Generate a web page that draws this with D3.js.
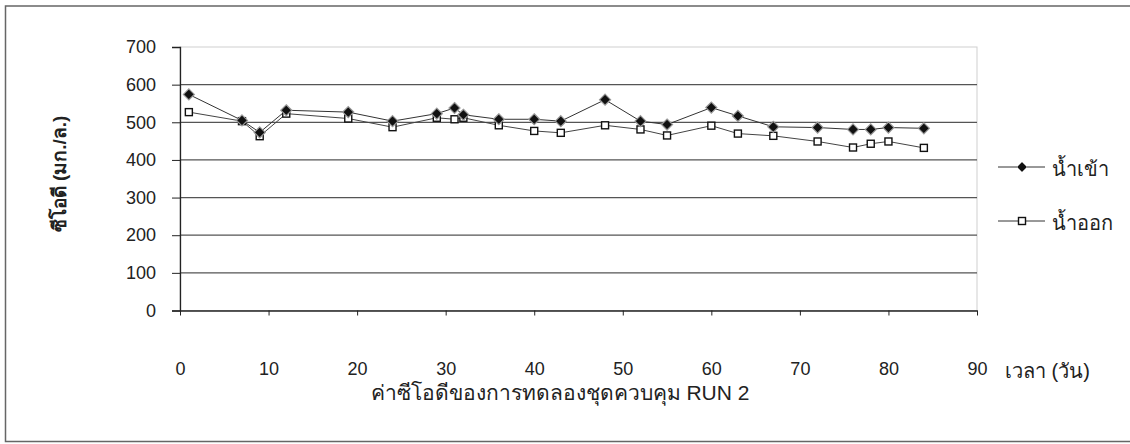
<!DOCTYPE html>
<html>
<head>
<meta charset="utf-8">
<script src="https://cdn.jsdelivr.net/npm/d3@7"></script>
<style>
  body { margin: 0; background: #fff; }
  svg text { font-family: "Liberation Sans", Arial, sans-serif; fill: #222; }
</style>
</head>
<body>
<div id="chart"></div>
<script>
const days = [1, 7, 9, 12, 19, 24, 29, 31, 32, 36, 40, 43, 48, 52, 55, 60, 63, 67, 72, 76, 78, 80, 84];
const codIn = [574, 505, 473, 532, 527, 503, 523, 538, 520, 508, 508, 503, 560, 503, 494, 539, 517, 488, 486, 481, 481, 486, 484];
const codOut = [527, 503, 463, 523, 510, 487, 512, 508, 512, 492, 477, 472, 492, 481, 465, 491, 470, 464, 449, 433, 443, 449, 432];
const xTicks = [0, 10, 20, 30, 40, 50, 60, 70, 80, 90];
const yTicks = [0, 100, 200, 300, 400, 500, 600, 700];
const seriesNames = ["น้ำเข้า", "น้ำออก"];
const xTitle = "ค่าซีโอดีของการทดลองชุดควบคุม RUN 2";
const xUnit = "เวลา (วัน)";
const yTitle = "ซีโอดี (มก./ล.)";

const W = 1130, H = 444;
const plot = { left: 180, right: 977, top: 47, bottom: 310.5 };

const svg = d3.select("#chart").append("svg")
    .attr("width", W)
    .attr("height", H);

// outer frame
svg.append("path")
    .attr("d", `M${W + 2},6 H5.5 V441.5 H${W + 2}`)
    .attr("fill", "none")
    .attr("stroke", "#666")
    .attr("stroke-width", 1.5);

const x = d3.scaleLinear().domain([0, 90]).range([plot.left, plot.right]);
const y = d3.scaleLinear().domain([0, 700]).range([plot.bottom, plot.top]);

// plot area border (faint)
svg.append("rect")
    .attr("x", plot.left).attr("y", plot.top)
    .attr("width", plot.right - plot.left)
    .attr("height", plot.bottom - plot.top)
    .attr("fill", "none")
    .attr("stroke", "#cfcfcf");

// grid lines
svg.append("g")
    .selectAll("line")
    .data(yTicks.filter(d => d > 0 && d < 700))
    .enter().append("line")
    .attr("x1", plot.left).attr("x2", plot.right)
    .attr("y1", d => y(d)).attr("y2", d => y(d))
    .attr("stroke", "#555")
    .attr("stroke-width", 1.2);

// y axis
const yAxis = svg.append("g")
    .attr("transform", `translate(${plot.left},0)`)
    .call(d3.axisLeft(y).tickValues(yTicks).tickSize(8).tickPadding(16));
yAxis.select(".domain").attr("stroke", "#222").attr("stroke-width", 1.3);
yAxis.selectAll(".tick line").attr("stroke", "#222");
yAxis.selectAll(".tick text").attr("font-size", 18).attr("fill", "#222");

// x axis
const xAxis = svg.append("g")
    .attr("transform", `translate(0,${plot.bottom})`)
    .call(d3.axisBottom(x).tickValues(xTicks).tickSize(5).tickSizeOuter(0).tickPadding(47));
xAxis.select(".domain").attr("stroke", "#222").attr("stroke-width", 1.3);
xAxis.selectAll(".tick line").attr("stroke", "#222");
xAxis.selectAll(".tick text").attr("font-size", 18).attr("fill", "#222");

svg.append("text")
    .attr("x", 1005).attr("y", 378)
    .attr("font-size", 20)
    .text(xUnit);

svg.append("text")
    .attr("x", 560).attr("y", 400)
    .attr("text-anchor", "middle")
    .attr("font-size", 21)
    .text(xTitle);

svg.append("text")
    .attr("transform", "translate(66,174) rotate(-90)")
    .attr("text-anchor", "middle")
    .attr("font-size", 19)
    .attr("font-weight", "bold")
    .text(yTitle);

const line = d3.line()
    .x((d, i) => x(days[i]))
    .y(d => y(d));

// outlet series (squares)
svg.append("path")
    .attr("d", line(codOut))
    .attr("fill", "none")
    .attr("stroke", "#444")
    .attr("stroke-width", 1);

// inlet series (diamonds)
svg.append("path")
    .attr("d", line(codIn))
    .attr("fill", "none")
    .attr("stroke", "#333")
    .attr("stroke-width", 1);

const diamond = "M0,-5.5L5.5,0L0,5.5L-5.5,0Z";

svg.append("g")
    .selectAll("rect")
    .data(codOut)
    .enter().append("rect")
    .attr("x", (d, i) => x(days[i]) - 3.5)
    .attr("y", d => y(d) - 3.5)
    .attr("width", 7).attr("height", 7)
    .attr("fill", "#fff")
    .attr("stroke", "#111")
    .attr("stroke-width", 1.4);

svg.append("g")
    .selectAll("path")
    .data(codIn)
    .enter().append("path")
    .attr("d", diamond)
    .attr("transform", (d, i) => `translate(${x(days[i])},${y(d)})`)
    .attr("fill", "#111")
    .attr("stroke", "#999")
    .attr("stroke-width", 1.2);

// legend
const legend = svg.append("g");
const legendY = [167, 221];
legend.selectAll("line")
    .data(seriesNames)
    .enter().append("line")
    .attr("x1", 998).attr("x2", 1045)
    .attr("y1", (d, i) => legendY[i]).attr("y2", (d, i) => legendY[i])
    .attr("stroke", "#333");
legend.append("path")
    .attr("d", "M0,-5L5,0L0,5L-5,0Z")
    .attr("transform", `translate(1022,${legendY[0]})`)
    .attr("fill", "#111")
    .attr("stroke", "#999");
legend.append("rect")
    .attr("x", 1018.5).attr("y", legendY[1] - 3.5)
    .attr("width", 7).attr("height", 7)
    .attr("fill", "#fff").attr("stroke", "#111").attr("stroke-width", 1.4);
legend.selectAll("text")
    .data(seriesNames)
    .enter().append("text")
    .attr("x", 1052)
    .attr("y", (d, i) => legendY[i] + 9)
    .attr("font-size", 20)
    .text(d => d);
</script>
</body>
</html>
